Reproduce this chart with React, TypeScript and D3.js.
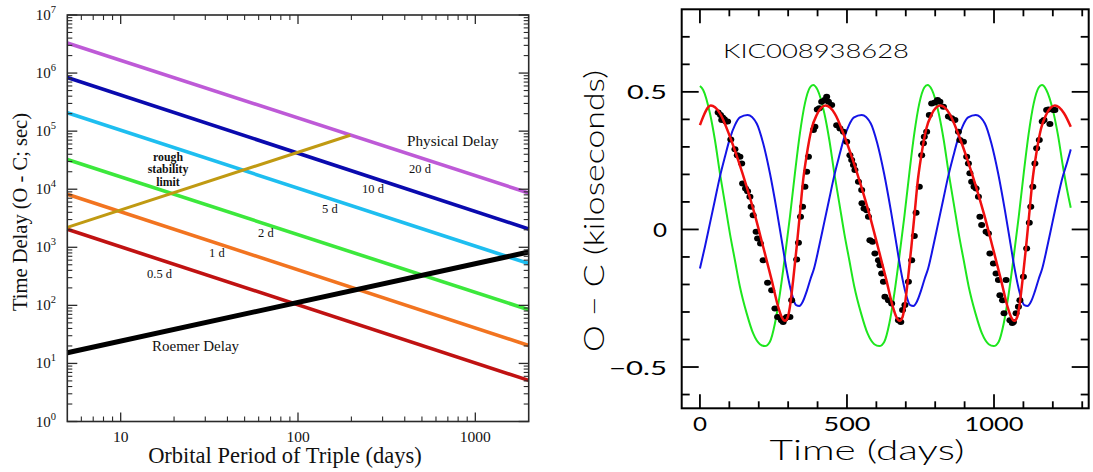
import React from 'react';
import * as d3 from 'd3';

// ---------- Left panel data (log-log) ----------
const PERIOD_RANGE = [5, 2000];
const PD_LABELS = ['20 d', '10 d', '5 d', '2 d', '1 d', '0.5 d'];
const PD_START = [3.3e6, 8.4e5, 2.07e5, 3.25e4, 8.2e3, 2.04e3];
const PD_END = [8.6e3, 2.07e3, 5.24e2, 8.4e1, 2.04e1, 5.1];
const PD_COLORS = ['#BE5AD7', '#0A0AAE', '#1EBEF0', '#3CE83C', '#F27420', '#C01212'];
const PD_LABEL_POS = [[409, 173], [362, 192.5], [322, 212.5], [258, 237], [209, 257], [147, 278]];
const ROEMER_DELAY = [15.3, 830];
const STAB_PERIOD = [5, 197];
const STAB_DELAY = [2200, 8.5e4];
const Y_DECADES = [0, 1, 2, 3, 4, 5, 6, 7];
const X_MAJOR = [10, 100, 1000];

// ---------- Right panel data ----------
const GREEN_DAYS = [0, 11, 34, 51, 68, 85, 102, 119, 136, 159, 181, 204, 221, 238, 255, 272, 289, 306, 323, 340, 357, 374, 385,
  400, 423, 440, 457, 474, 491, 508, 525, 548, 570, 593, 610, 627, 644, 661, 678, 695, 712, 729, 746, 763, 774,
  789, 812, 829, 846, 863, 880, 897, 914, 937, 959, 982, 999, 1016, 1033, 1050, 1067, 1084, 1101, 1118, 1135, 1152, 1163,
  1178, 1201, 1218, 1235, 1252, 1261];
const GREEN_VALS = [0.521, 0.507, 0.422, 0.325, 0.204, 0.095, -0.015, -0.112, -0.208, -0.305, -0.378, -0.417, -0.424, -0.408, -0.342, -0.233, -0.099, 0.046, 0.204, 0.349, 0.458, 0.516, 0.525,
  0.507, 0.422, 0.325, 0.204, 0.095, -0.015, -0.112, -0.208, -0.305, -0.378, -0.417, -0.424, -0.408, -0.342, -0.233, -0.099, 0.046, 0.204, 0.349, 0.458, 0.516, 0.525,
  0.507, 0.422, 0.325, 0.204, 0.095, -0.015, -0.112, -0.208, -0.305, -0.378, -0.417, -0.424, -0.408, -0.342, -0.233, -0.099, 0.046, 0.204, 0.349, 0.458, 0.516, 0.525,
  0.507, 0.43, 0.34, 0.225, 0.125, 0.079];

const BLUE_DAYS = [0, 17, 34, 51, 68, 85, 102, 119, 136, 162, 193, 215, 238, 261, 278, 295, 312, 327, 338, 350, 363, 376, 388,
  405, 422, 439, 456, 473, 490, 507, 524, 550, 581, 603, 626, 649, 666, 683, 700, 715, 726, 738, 751, 764, 776,
  793, 810, 827, 844, 861, 878, 895, 912, 938, 969, 991, 1014, 1037, 1054, 1071, 1088, 1103, 1114, 1126, 1139, 1152, 1164,
  1181, 1198, 1215, 1232, 1249, 1261];
const BLUE_VALS = [-0.142, -0.063, 0.022, 0.107, 0.192, 0.264, 0.331, 0.379, 0.407, 0.416, 0.385, 0.313, 0.204, 0.07, -0.039, -0.148, -0.233, -0.275, -0.278, -0.262, -0.225, -0.18, -0.142,
  -0.063, 0.022, 0.107, 0.192, 0.264, 0.331, 0.379, 0.407, 0.416, 0.385, 0.313, 0.204, 0.07, -0.039, -0.148, -0.233, -0.275, -0.278, -0.262, -0.225, -0.18, -0.142,
  -0.063, 0.022, 0.107, 0.192, 0.264, 0.331, 0.379, 0.407, 0.416, 0.385, 0.313, 0.204, 0.07, -0.039, -0.148, -0.233, -0.275, -0.278, -0.262, -0.225, -0.18, -0.142,
  -0.063, 0.022, 0.107, 0.185, 0.245, 0.291];

const RED_DAYS = [0, 37, 68, 102, 130, 159, 187, 215, 244, 266, 278, 289, 299, 306, 317, 329, 340, 351, 363, 380, 397, 427,
  458, 492, 520, 549, 577, 605, 634, 656, 668, 679, 689, 696, 707, 719, 730, 741, 753, 770, 787, 817,
  848, 882, 910, 939, 967, 995, 1024, 1046, 1058, 1069, 1079, 1086, 1097, 1109, 1120, 1131, 1143, 1160, 1177, 1207,
  1238, 1261];
const RED_VALS = [0.379, 0.45, 0.422, 0.337, 0.252, 0.155, 0.052, -0.063, -0.184, -0.281, -0.318, -0.332, -0.318, -0.281, -0.184, -0.063, 0.058, 0.179, 0.27, 0.367, 0.416, 0.45,
  0.422, 0.337, 0.252, 0.155, 0.052, -0.063, -0.184, -0.281, -0.318, -0.332, -0.318, -0.281, -0.184, -0.063, 0.058, 0.179, 0.27, 0.367, 0.416, 0.45,
  0.422, 0.337, 0.252, 0.155, 0.052, -0.063, -0.184, -0.281, -0.318, -0.332, -0.318, -0.281, -0.184, -0.063, 0.058, 0.179, 0.27, 0.367, 0.416, 0.45,
  0.422, 0.373];

const DOT_DAYS = [62, 70, 74, 77, 83, 88, 94, 105, 119, 127, 136, 142, 145, 155, 162, 170, 174, 181, 191, 196, 206, 215, 230, 244, 255, 264, 277, 283, 289, 295, 306, 312,
  329, 335, 342, 349, 357, 363, 369, 386, 391, 399, 406, 414, 424, 431, 437, 448, 465, 476, 488, 499, 510, 516, 522, 527, 539, 550, 551, 558, 567, 573, 578, 587, 595, 607,
  612, 618, 624, 629, 641, 652, 675, 683, 689, 697, 709, 720, 729, 735, 746, 754, 760, 763, 771, 780, 788, 799, 808, 816, 828, 845, 856, 867, 879, 884, 896, 907, 913, 918,
  924, 932, 939, 947, 952, 958, 973, 981, 986, 998, 1007, 1015, 1020, 1029, 1034, 1041, 1054, 1062, 1066, 1075, 1083, 1088, 1100, 1111, 1120, 1125, 1132, 1139, 1145, 1154,
  1164, 1170, 1179, 1185, 1190, 1202, 1207];
const DOT_VALS = [0.425, 0.416, 0.398, 0.407, 0.4, 0.392, 0.392, 0.327, 0.291, 0.27, 0.264, 0.24, 0.167, 0.149, 0.139, 0.119, 0.082, 0.052, -0.008, -0.033, -0.051, -0.112, -0.194, -0.221, -0.287, -0.318, -0.33, -0.336, -0.325, -0.318, -0.318, -0.257,
  -0.109, -0.048, 0.046, 0.082, 0.155, 0.21, 0.264, 0.361, 0.373, 0.436, 0.44, 0.464, 0.47, 0.482, 0.464, 0.452, 0.379, 0.367, 0.355, 0.319, 0.27, 0.252, 0.234, 0.216, 0.173, 0.143, 0.095, 0.076, 0.07, 0.046, -0.039, -0.045, -0.087, -0.112,
  -0.13, -0.16, -0.19, -0.245, -0.257, -0.269, -0.33, -0.336, -0.293, -0.275, -0.19, -0.112, -0.024, 0.061, 0.155, 0.27, 0.313, 0.337, 0.355, 0.416, 0.458, 0.461, 0.47, 0.464, 0.446, 0.41, 0.404, 0.398, 0.355, 0.325, 0.319, 0.264, 0.24, 0.204,
  0.173, 0.155, 0.149, 0.119, 0.046, 0.016, -0.008, -0.015, -0.087, -0.124, -0.16, -0.184, -0.239, -0.257, -0.305, -0.184, -0.33, -0.34, -0.336, -0.305, -0.281, -0.257, -0.172, -0.069, 0.024, 0.082, 0.155, 0.24, 0.295, 0.325,
  0.392, 0.398, 0.434, 0.436, 0.383, 0.434, 0.434];

const R_Y_TICKS = [-0.6, -0.5, -0.4, -0.3, -0.2, -0.1, 0, 0.1, 0.2, 0.3, 0.4, 0.5, 0.6, 0.7];
const R_Y_MAJOR = [-0.5, 0, 0.5];
const R_Y_LABELS = ['−0.5', '0', '0.5'];
const R_Y_LABEL_LEN = [58, 14, 40];
const R_X_TICKS = [0, 100, 200, 300, 400, 500, 600, 700, 800, 900, 1000, 1100, 1200, 1300];
const R_X_MAJOR = [0, 500, 1000];
const R_X_LABEL_LEN = [14, 47, 59];

const SERIF = '"Liberation Serif", "Times New Roman", serif';
const SANS = 'Lato, "Open Sans", "Liberation Sans", sans-serif';

export default function App() {
  // Left panel scales
  const xL = d3.scaleLog().domain(PERIOD_RANGE).range([67.3, 528.7]);
  const yL = d3.scaleLog().domain([1, 1e7]).range([421.5, 15]);
  const lineL = d3.line<[number, number]>().x(d => xL(d[0])).y(d => yL(d[1]));
  const [lx0, lx1] = xL.range();
  const [ly0, ly1] = yL.range(); // bottom, top

  const yMinor: number[] = [];
  for (let e = 0; e < 7; e++) for (let m = 2; m <= 9; m++) yMinor.push(m * 10 ** e);
  const xMinor: number[] = [];
  for (let e = 0; e < 4; e++) for (let m = 1; m <= 9; m++) {
    const v = m * 10 ** e;
    if (v > 5 && v < 2000 && m !== 1) xMinor.push(v);
  }

  // Right panel scales
  const xR = d3.scaleLinear().domain([-62, 1322]).range([681.7, 1088.7]);
  const yR = d3.scaleLinear().domain([-0.65, 0.8]).range([408.3, 9.3]);
  const [rx0, rx1] = xR.range();
  const [ry0, ry1] = yR.range();
  const lineR = d3.line<number>().curve(d3.curveMonotoneX);
  const mk = (days: number[], vals: number[]) =>
    lineR.x((_, i) => xR(days[i])).y((_, i) => yR(vals[i]))(days.map((_, i) => i)) || '';
  const greenPath = mk(GREEN_DAYS, GREEN_VALS);
  const bluePath = mk(BLUE_DAYS, BLUE_VALS);
  const redPath = mk(RED_DAYS, RED_VALS);

  const isMaj = (v: number, arr: number[]) => arr.some(a => Math.abs(a - v) < 1e-9);

  return (
    <svg width={1093} height={472} style={{ position: 'absolute', left: 0, top: 0, background: '#fff' }}>
      {/* ===== Left panel ===== */}
      <g>
        {PD_START.map((s, i) => (
          <path key={'pd' + i} d={lineL([[PERIOD_RANGE[0], s], [PERIOD_RANGE[1], PD_END[i]]]) || ''}
            fill="none" stroke={PD_COLORS[i]} strokeWidth={3.6} />
        ))}
        <path d={lineL([[STAB_PERIOD[0], STAB_DELAY[0]], [STAB_PERIOD[1], STAB_DELAY[1]]]) || ''}
          fill="none" stroke="#C09A12" strokeWidth={3} />
        <path d={lineL([[PERIOD_RANGE[0], ROEMER_DELAY[0]], [PERIOD_RANGE[1], ROEMER_DELAY[1]]]) || ''}
          fill="none" stroke="#000" strokeWidth={5} />

        {/* frame */}
        <rect x={lx0} y={ly1} width={lx1 - lx0} height={ly0 - ly1} fill="none" stroke="#2a2a2a" strokeWidth={1.6} />
        {/* y ticks */}
        {Y_DECADES.map(e => {
          const y = yL(10 ** e);
          return (
            <g key={'ym' + e}>
              <line x1={lx0} x2={lx0 + 10} y1={y} y2={y} stroke="#2a2a2a" strokeWidth={1.3} />
              <line x1={lx1} x2={lx1 - 10} y1={y} y2={y} stroke="#2a2a2a" strokeWidth={1.3} />
              <text x={56} y={y + 5} textAnchor="end" fontFamily={SERIF} fontSize={15} fill="#111">
                10<tspan dy={-7} fontSize={10.5}>{e}</tspan>
              </text>
            </g>
          );
        })}
        {yMinor.map((v, i) => {
          const y = yL(v);
          return (
            <g key={'yn' + i}>
              <line x1={lx0} x2={lx0 + 5} y1={y} y2={y} stroke="#2a2a2a" strokeWidth={1.1} />
              <line x1={lx1} x2={lx1 - 5} y1={y} y2={y} stroke="#2a2a2a" strokeWidth={1.1} />
            </g>
          );
        })}
        {/* x ticks */}
        {X_MAJOR.map(v => {
          const x = xL(v);
          return (
            <g key={'xm' + v}>
              <line x1={x} x2={x} y1={ly0} y2={ly0 - 9} stroke="#2a2a2a" strokeWidth={1.3} />
              <line x1={x} x2={x} y1={ly1} y2={ly1 + 9} stroke="#2a2a2a" strokeWidth={1.3} />
              <text x={x} y={442} textAnchor="middle" fontFamily={SERIF} fontSize={15.5} fill="#111">{v}</text>
            </g>
          );
        })}
        {xMinor.map(v => {
          const x = xL(v);
          return (
            <g key={'xn' + v}>
              <line x1={x} x2={x} y1={ly0} y2={ly0 - 5} stroke="#2a2a2a" strokeWidth={1.1} />
              <line x1={x} x2={x} y1={ly1} y2={ly1 + 5} stroke="#2a2a2a" strokeWidth={1.1} />
            </g>
          );
        })}

        {/* labels */}
        {PD_LABELS.map((t, i) => (
          <text key={'pl' + i} x={PD_LABEL_POS[i][0]} y={PD_LABEL_POS[i][1]} fontFamily={SERIF} fontSize={12.5} fill="#111">{t}</text>
        ))}
        <text x={407} y={146} fontFamily={SERIF} fontSize={15.2} fill="#111">Physical Delay</text>
        <text x={152} y={351} fontFamily={SERIF} fontSize={15} fill="#111">Roemer Delay</text>
        <text x={168} y={160.5} textAnchor="middle" fontFamily={SERIF} fontSize={11.8} fontWeight="bold" fill="#111">rough</text>
        <text x={168} y={173} textAnchor="middle" fontFamily={SERIF} fontSize={11.8} fontWeight="bold" fill="#111">stability</text>
        <text x={168} y={185.5} textAnchor="middle" fontFamily={SERIF} fontSize={11.8} fontWeight="bold" fill="#111">limit</text>
        <text x={285} y={463} textAnchor="middle" fontFamily={SERIF} fontSize={22.5} fill="#111">Orbital Period of Triple (days)</text>
        <text transform="translate(27,212) rotate(-90)" textAnchor="middle" fontFamily={SERIF} fontSize={20.5} fill="#111">Time Delay (O - C; sec)</text>
      </g>

      {/* ===== Right panel ===== */}
      <g>
        <defs>
          <clipPath id="rclip"><rect x={rx0} y={ry1} width={rx1 - rx0} height={ry0 - ry1} /></clipPath>
        </defs>
        <g clipPath="url(#rclip)">
          <path d={greenPath} fill="none" stroke="#1EE61E" strokeWidth={2} />
          <path d={bluePath} fill="none" stroke="#1414E6" strokeWidth={2} />
          {DOT_DAYS.map((d, i) => (
            <ellipse key={'dot' + i} cx={xR(d)} cy={yR(DOT_VALS[i])} rx={3.5} ry={3} fill="#000" />
          ))}
          <path d={redPath} fill="none" stroke="#F01010" strokeWidth={2.5} />
        </g>
        <rect x={rx0} y={ry1} width={rx1 - rx0} height={ry0 - ry1} fill="none" stroke="#000" strokeWidth={2} />
        {R_Y_TICKS.map((v, i) => {
          const y = yR(v);
          const maj = isMaj(v, R_Y_MAJOR);
          const len = maj ? 17 : 8;
          return (
            <g key={'ry' + i}>
              <line x1={rx0} x2={rx0 + len} y1={y} y2={y} stroke="#000" strokeWidth={1.8} />
              <line x1={rx1} x2={rx1 - len} y1={y} y2={y} stroke="#000" strokeWidth={1.8} />
            </g>
          );
        })}
        {R_Y_MAJOR.map((v, i) => (
          <text key={'ryl' + i} x={667} y={yR(v) + 7.5} textAnchor="end" fontFamily={SANS} fontWeight={400} fontSize={19}
            textLength={R_Y_LABEL_LEN[i]} lengthAdjust="spacingAndGlyphs" fill="#000">{R_Y_LABELS[i]}</text>
        ))}
        {R_X_TICKS.map((v, i) => {
          const x = xR(v);
          const maj = isMaj(v, R_X_MAJOR);
          const len = maj ? 14 : 7;
          return (
            <g key={'rx' + i}>
              <line x1={x} x2={x} y1={ry0} y2={ry0 - len} stroke="#000" strokeWidth={1.8} />
              <line x1={x} x2={x} y1={ry1} y2={ry1 + len} stroke="#000" strokeWidth={1.8} />
            </g>
          );
        })}
        {R_X_MAJOR.map((v, i) => (
          <text key={'rxl' + i} x={xR(v)} y={431} textAnchor="middle" fontFamily={SANS} fontWeight={400} fontSize={18.5}
            textLength={R_X_LABEL_LEN[i]} lengthAdjust="spacingAndGlyphs" fill="#000">{v}</text>
        ))}
        <text x={723} y={57.5} fontFamily={SANS} fontWeight={300} fontSize={20} textLength={186} lengthAdjust="spacingAndGlyphs" fill="#000">KIC008938628</text>
        <text x={867} y={460} textAnchor="middle" fontFamily={SANS} fontWeight={300} fontSize={27} textLength={195} lengthAdjust="spacingAndGlyphs" fill="#000">Time (days)</text>
        <text transform="translate(604,211) rotate(-90)" textAnchor="middle" fontFamily={SANS} fontWeight={300} fontSize={27}
          textLength={282} lengthAdjust="spacingAndGlyphs" fill="#000">O − C (kiloseconds)</text>
      </g>
    </svg>
  );
}
